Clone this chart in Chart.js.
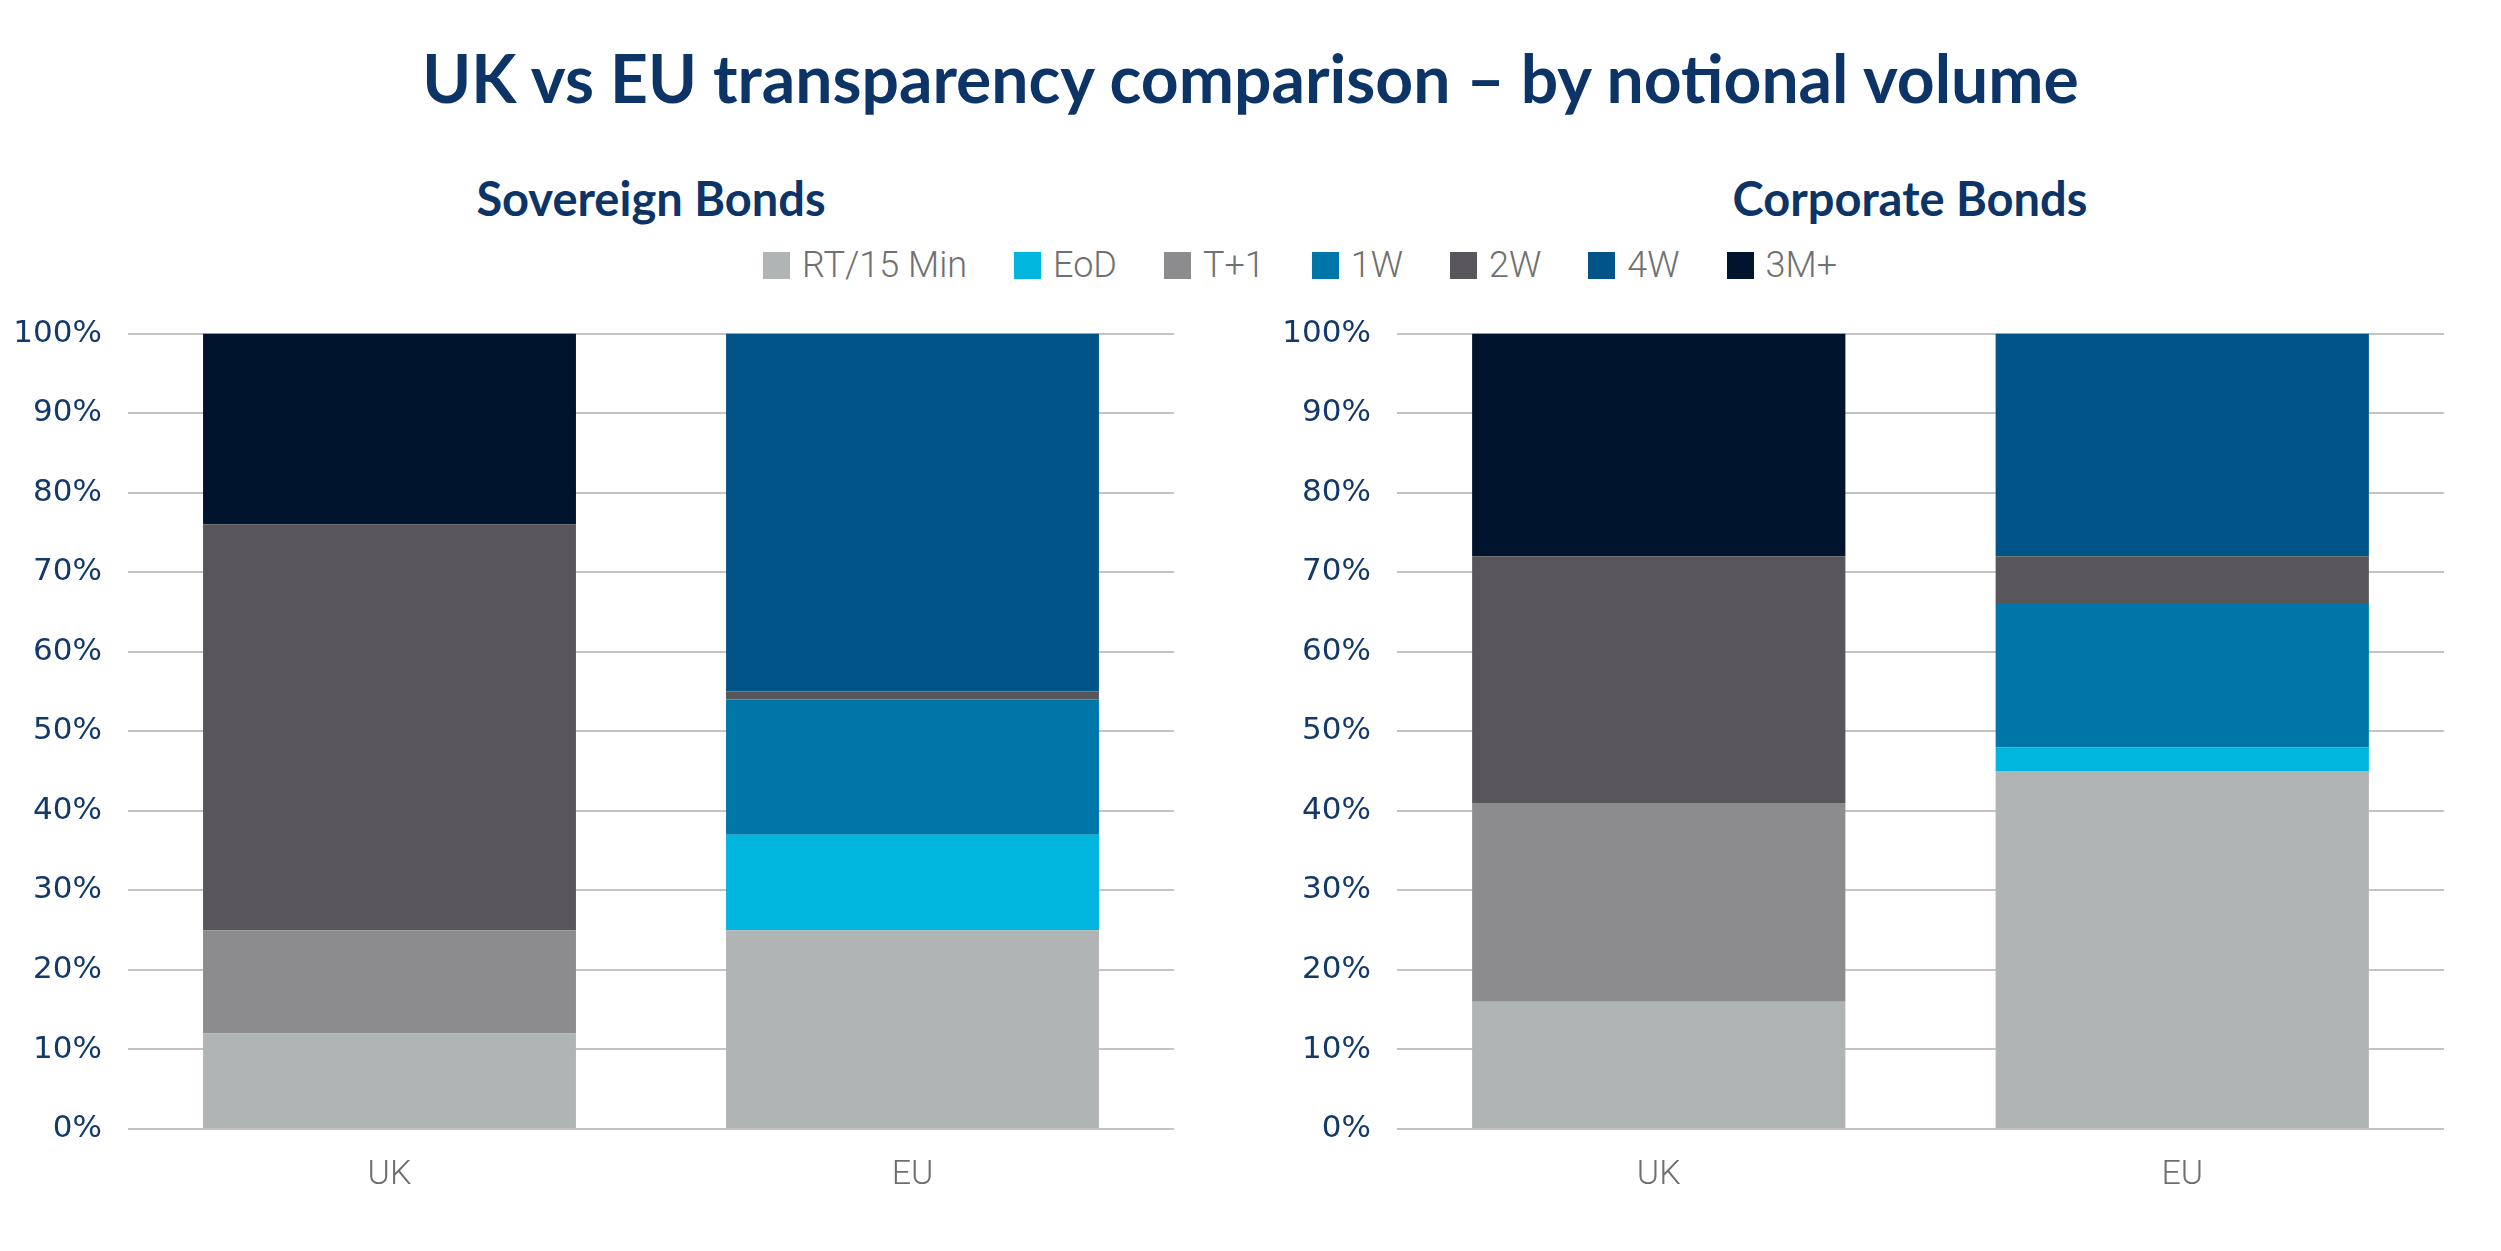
<!DOCTYPE html>
<html lang="en">
<head>
  <meta charset="UTF-8">
  <title>UK vs EU transparency comparison</title>
  <script src="https://cdn.jsdelivr.net/npm/chart.js"></script>
  <style>
    body { margin: 0; width: 2501px; height: 1251px; background: #fff; position: relative; overflow: hidden; }
    #title {
      position: absolute; left: 0; top: 38px; width: 2501px; text-align: center;
      font-family: Lato, sans-serif; font-weight: 700; font-size: 66px; color: #0d3466;
    }
    .subtitle {
      position: absolute; top: 170px; text-align: center;
      font-family: Lato, sans-serif; font-weight: 700; font-size: 47px; color: #0d3466;
    }
    #legend {
      position: absolute; top: 244px; left: 0; width: 2600px;
      display: flex; justify-content: center; gap: 47px;
      font-family: Roboto, sans-serif; font-weight: 300; font-size: 36px; color: #707070;
    }
    .item { display: flex; align-items: center; }
    .swatch { width: 27px; height: 27px; margin-right: 12px; }
    canvas { position: absolute; }
  </style>
</head>
<body>
  <div id="title">UK vs EU transparency comparison – by notional volume</div>
  <div class="subtitle" style="left:0; width:1302px;">Sovereign Bonds</div>
  <div class="subtitle" style="left:1330px; width:1160px;">Corporate Bonds</div>
  <div id="legend"></div>

  <div style="position:absolute; left:0; top:289px; width:1300px; height:931px;"><canvas id="sovChart"></canvas></div>
  <div style="position:absolute; left:1269px; top:289px; width:1232px; height:931px;"><canvas id="corpChart"></canvas></div>

  <script>
    // categories and series
    const categories = ["UK", "EU"];
    const seriesNames = ["RT/15 Min", "EoD", "T+1", "1W", "2W", "4W", "3M+"];
    const seriesColors = ["#b1b4b5", "#00b5de", "#8c8c8e", "#0076a8", "#58565a", "#005487", "#00142d"];
    const yTicks = [0, 10, 20, 30, 40, 50, 60, 70, 80, 90, 100];

    // Sovereign bonds, % of notional volume [UK, EU]
    const sovRT = [12, 25];
    const sovEoD = [0, 12];
    const sovT1 = [13, 0];
    const sov1W = [0, 17];
    const sov2W = [51, 1];
    const sov4W = [0, 45];
    const sov3M = [24, 0];

    // Corporate bonds, % of notional volume [UK, EU]
    const corpRT = [16, 45];
    const corpEoD = [0, 3];
    const corpT1 = [25, 0];
    const corp1W = [0, 18];
    const corp2W = [31, 6];
    const corp4W = [0, 28];
    const corp3M = [28, 0];

    // html legend
    const legend = document.getElementById("legend");
    seriesNames.forEach((name, i) => {
      const item = document.createElement("div");
      item.className = "item";
      item.innerHTML = `<span class="swatch" style="background:${seriesColors[i]}"></span><span>${name}</span>`;
      legend.appendChild(item);
    });

    function buildDatasets(series) {
      return series.map((values, i) => ({
        label: seriesNames[i],
        data: values,
        backgroundColor: seriesColors[i],
        borderWidth: 0,
        categoryPercentage: 1,
        barPercentage: 0.713
      }));
    }

    function makeChart(id, series, rightPad) {
      const ctx = document.getElementById(id).getContext("2d");
      return new Chart(ctx, {
        type: "bar",
        data: { labels: categories, datasets: buildDatasets(series) },
        options: {
          responsive: true,
          maintainAspectRatio: false,
          animation: false,
          layout: { padding: { top: 21, right: rightPad, bottom: 0, left: 0 } },
          plugins: { legend: { display: false }, tooltip: { enabled: false } },
          scales: {
            x: {
              stacked: true,
              grid: { display: false, drawTicks: false },
              border: { display: false },
              ticks: { color: "#6d6e71", padding: 26, font: { family: "Roboto", weight: 300, size: 34 } },
              afterFit: s => { s.height = 91; }
            },
            y: {
              stacked: true,
              min: 0,
              max: 100,
              afterBuildTicks: s => { s.ticks = yTicks.map(v => ({ value: v })); },
              grid: { color: "#c4c4c4", lineWidth: 2, drawTicks: false },
              border: { display: false },
              ticks: {
                color: "#12396a",
                padding: 26,
                font: { family: "DejaVu Sans", size: 31 },
                callback: v => v + "%"
              },
              afterFit: s => { s.width = 128; }
            }
          }
        }
      });
    }

    makeChart("sovChart", [sovRT, sovEoD, sovT1, sov1W, sov2W, sov4W, sov3M], 126);
    makeChart("corpChart", [corpRT, corpEoD, corpT1, corp1W, corp2W, corp4W, corp3M], 57);
  </script>
</body>
</html>
